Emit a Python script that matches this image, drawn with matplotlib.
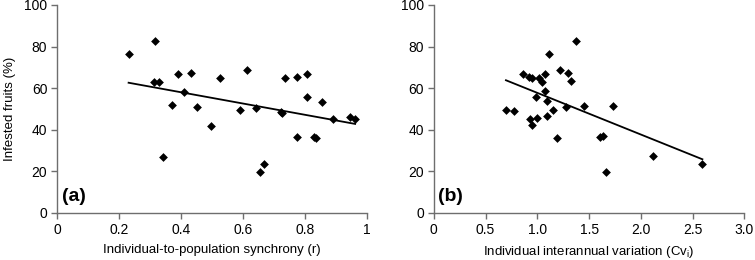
import matplotlib
matplotlib.use("Agg")
import matplotlib.pyplot as plt
import numpy as np

plt.rcParams['font.family'] = ['Liberation Sans', 'DejaVu Sans']

# Panel (a): synchrony vs infested fruits
sync_r = [0.231, 0.316, 0.312, 0.330, 0.343, 0.372, 0.391, 0.409, 0.431, 0.451,
          0.497, 0.526, 0.591, 0.614, 0.641, 0.655, 0.667, 0.723, 0.726, 0.737,
          0.773, 0.775, 0.808, 0.808, 0.828, 0.835, 0.855, 0.892, 0.945, 0.962]
infest_a = [76.6, 82.7, 62.8, 62.8, 26.9, 51.8, 66.7, 58.3, 67.3, 51.1,
            41.8, 64.9, 49.4, 68.9, 50.3, 19.7, 23.6, 48.7, 48.0, 64.9,
            36.7, 65.4, 66.7, 55.6, 36.7, 36.2, 53.2, 45.0, 46.3, 45.2]
trend_a_x = [0.231, 0.962]
trend_a_y = [62.6, 42.8]

# Panel (b): interannual variation vs infested fruits
cv_i = [0.697, 0.774, 0.860, 0.918, 0.953, 0.928, 0.947, 0.984, 0.993, 1.016,
        1.041, 1.074, 1.077, 1.111, 1.095, 1.095, 1.152, 1.191, 1.220, 1.278,
        1.294, 1.321, 1.378, 1.452, 1.609, 1.631, 1.660, 1.734, 2.121, 2.594]
infest_b = [49.5, 49.0, 67.0, 65.4, 65.0, 45.0, 42.2, 55.9, 45.5, 65.0,
            62.8, 67.0, 58.8, 76.6, 53.7, 46.8, 49.5, 36.2, 68.8, 51.0,
            67.3, 63.3, 82.8, 51.3, 36.7, 37.0, 19.7, 51.6, 27.4, 23.7]
trend_b_x = [0.697, 2.594]
trend_b_y = [63.8, 25.8]

xticks_a = [0, 0.2, 0.4, 0.6, 0.8, 1.0]
xticklabels_a = ['0', '0.2', '0.4', '0.6', '0.8', '1']
xticks_b = [0, 0.5, 1.0, 1.5, 2.0, 2.5, 3.0]
xticklabels_b = ['0', '0.5', '1.0', '1.5', '2.0', '2.5', '3.0']
yticks = [0, 20, 40, 60, 80, 100]

fig = plt.figure(figsize=(7.55, 2.6), dpi=100)
ax1 = fig.add_axes([0.0755, 0.181, 0.4105, 0.800])
ax2 = fig.add_axes([0.5745, 0.181, 0.4115, 0.800])

panels = [
    (ax1, sync_r, infest_a, trend_a_x, trend_a_y, xticks_a, xticklabels_a, (0, 1),
     'Individual-to-population synchrony (r)', '(a)'),
    (ax2, cv_i, infest_b, trend_b_x, trend_b_y, xticks_b, xticklabels_b, (0, 3),
     'Individual interannual variation (Cv$_\\mathregular{i}$)', '(b)'),
]

for ax, xs, ys, tx, ty, xt, xtl, xl, xlabel, tag in panels:
    ax.scatter(xs, ys, marker='D', s=20, color='black', zorder=3, linewidths=0)
    ax.plot(tx, ty, color='black', lw=1.3, zorder=2)
    ax.set_xlim(*xl)
    ax.set_ylim(0, 100)
    ax.set_xticks(xt)
    ax.set_xticklabels(xtl)
    ax.set_yticks(yticks)
    for s in ['top', 'right']:
        ax.spines[s].set_visible(False)
    for s in ['left', 'bottom']:
        ax.spines[s].set_color('#6e6e6e')
        ax.spines[s].set_linewidth(1.0)
    ax.tick_params(direction='out', length=4, width=1.0, color='#6e6e6e',
                   labelsize=10, pad=3)
    ax.set_xlabel(xlabel, fontsize=9.5, labelpad=5)
    ax.text(0.015, 0.04, tag, transform=ax.transAxes, fontsize=14,
            fontweight='bold', ha='left', va='bottom')

ax1.set_ylabel('Infested fruits (%)', fontsize=9.5, labelpad=6)

fig.savefig('out.png', dpi=100)
